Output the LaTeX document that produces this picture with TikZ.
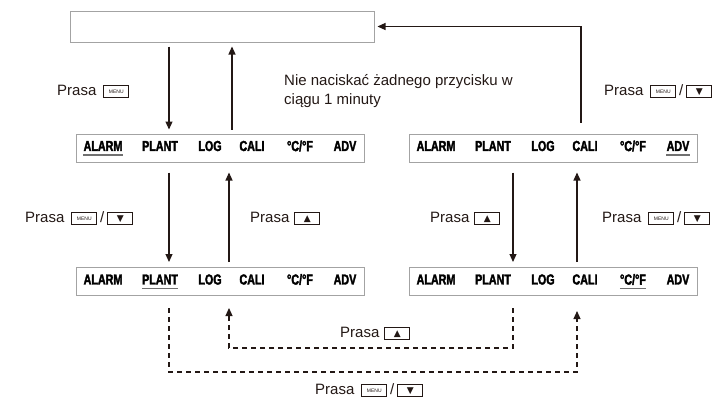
\documentclass[tikz,border=0pt]{standalone}
\usepackage{fontspec}
\usepackage{tikz}
\usepackage{xcolor}
\usetikzlibrary{arrows.meta}

\setmainfont{Liberation Sans}
\newfontfamily\lcdfont[FakeStretch=0.74, BoldFeatures={FakeBold=2.2}]{Liberation Sans}
\newfontfamily\symfont{DejaVu Sans}

\definecolor{ink}{HTML}{231815}
\definecolor{boxgray}{HTML}{A3A3A3}
\definecolor{ulgray}{HTML}{707070}

% key icons
\newcommand\keybox[1]{{\setlength{\fboxsep}{0pt}\setlength{\fboxrule}{0.9pt}\fbox{\makebox[24pt]{\rule[-1pt]{0pt}{11pt}#1}}}}
\newcommand\menukey{\keybox{\raisebox{2pt}{\fontsize{5}{5}\selectfont MENU}}}
\newcommand\downkey{\keybox{\raisebox{1pt}{\symfont\fontsize{9}{9}\selectfont ▼}}}
\newcommand\upkey{\keybox{\raisebox{1pt}{\symfont\fontsize{9}{9}\selectfont ▲}}}
\newcommand\degcf{°C/°F}

% one row of the display, #2 = underlined item
\newcommand\lcdrow[2]{%
  \foreach \t/\dx [count=\i] in {ALARM/-117, PLANT/-60, LOG/-10, CALI/32, \degcf/80, ADV/125}{
    \node[lcd] at ([xshift=\dx pt, yshift=2pt]#1.center) (#1-\i) {\t};
    \ifnum\i=#2 \draw[uline] ([yshift=-4pt]#1-\i.base west) -- ([yshift=-4pt]#1-\i.base east); \fi
  }}

\begin{document}
\begin{tikzpicture}[x=1pt, y=-1pt,
  flow/.style={ink, line width=1.1pt, -{Triangle[width=7pt,length=8pt]}},
  hint/.style={flow, dash pattern=on 5pt off 4pt},
  screen/.style={draw=boxgray, line width=1pt, minimum width=288pt, minimum height=28pt, inner sep=0pt},
  lcd/.style={inner sep=0pt, text=black, font=\lcdfont\bfseries\fontsize{14.5}{15}\selectfont},
  uline/.style={ulgray, line width=1.6pt},
  txt/.style={anchor=west, inner sep=0pt, text=ink, font=\fontsize{15}{19}\selectfont}]

\useasboundingbox (0,0) rectangle (717,399);

\node[screen, minimum width=304pt, minimum height=31pt] at (222,26.5) (menu) {};
\node[screen] at (220,148) (alarm) {};
\node[screen] at (553,148) (adv) {};
\node[screen] at (220,281.5) (plant) {};
\node[screen] at (553,281.5) (unit) {};

\lcdrow{alarm}{1}
\lcdrow{adv}{6}
\lcdrow{plant}{2}
\lcdrow{unit}{5}

\coordinate (c1) at (169,0);
\coordinate (c2) at (232,0);
\coordinate (c3) at (229,0);
\coordinate (c4) at (513,0);
\coordinate (c5) at (577,0);
\coordinate (c6) at (581,0);
\coordinate (d1) at (0,372);
\coordinate (d2) at (0,348);

\draw[flow, shorten <=4pt, shorten >=4pt] (menu.south -| c1) -- (alarm.north -| c1);
\draw[flow, shorten <=4pt, shorten >=4pt] (alarm.north -| c2) -- (menu.south -| c2);
\draw[flow, shorten <=10pt, shorten >=5pt] (alarm.south -| c1) -- (plant.north -| c1);
\draw[flow, shorten <=5pt, shorten >=10pt] (plant.north -| c3) -- (alarm.south -| c3);
\draw[flow, shorten <=10pt, shorten >=5pt] (adv.south -| c4) -- (unit.north -| c4);
\draw[flow, shorten <=5pt, shorten >=10pt] (unit.north -| c5) -- (adv.south -| c5);
\draw[flow, shorten <=11pt, shorten >=3pt] (adv.north -| c6) |- (menu.east);

\draw[hint, shorten <=12pt, shorten >=15pt] (plant.south -| c1) -- (d1 -| c1) -- (d1 -| c5) -- (unit.south -| c5);
\draw[hint, shorten <=12pt, shorten >=12pt] (unit.south -| c4) -- (d2 -| c4) -- (d2 -| c3) -- (plant.south -| c3);

\node[txt] at (57,91) (p1) {Prasa\hspace{7pt}\menukey};
\node[txt, align=left] at (284,91.5) (note) {Nie naciskać żadnego przycisku w\\ciągu 1 minuty};
\node[txt] at (604,91) (p2) {Prasa\hspace{7pt}\menukey\hspace{3pt}/\hspace{3pt}\downkey};
\node[txt] at (25,218) (p3) {Prasa\hspace{7pt}\menukey\hspace{3pt}/\hspace{3pt}\downkey};
\node[txt] at (250,218) (p4) {Prasa\hspace{5pt}\upkey};
\node[txt] at (430,218) (p5) {Prasa\hspace{5pt}\upkey};
\node[txt] at (602,218) (p6) {Prasa\hspace{7pt}\menukey\hspace{3pt}/\hspace{3pt}\downkey};
\node[txt] at (340,333) (p7) {Prasa\hspace{5pt}\upkey};
\node[txt] at (315,390) (p8) {Prasa\hspace{7pt}\menukey\hspace{3pt}/\hspace{3pt}\downkey};

\end{tikzpicture}
\end{document}
